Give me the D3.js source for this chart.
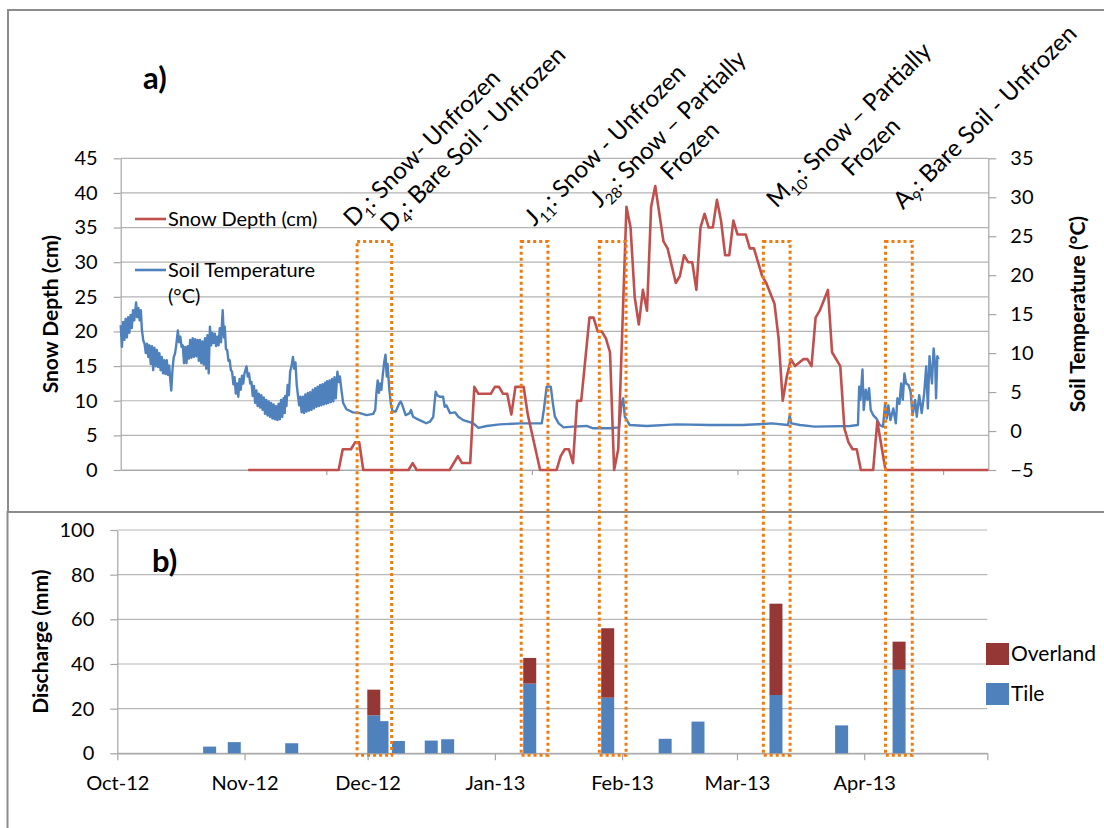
<!DOCTYPE html>
<html>
<head>
<meta charset="utf-8">
<script src="https://cdn.jsdelivr.net/npm/d3@7"></script>
<style>
  body { margin: 0; background: #fff; }
  text { font-family: Lato, "Open Sans", sans-serif; fill: #000; }
</style>
</head>
<body>
<svg id="chart" width="1104" height="828"></svg>
<script>
// ---- data ----
// snow depth (cm), daily
var snowDepth = [
  ["2012-11-01",0],["2012-11-23",0],["2012-11-24",3],["2012-11-26",3],["2012-11-27",4],["2012-11-28",4],["2012-11-29",0],
  ["2012-12-10",0],["2012-12-11",1],["2012-12-12",0],["2012-12-20",0],["2012-12-22",2],["2012-12-23",1],["2012-12-25",1],
  ["2012-12-26",12],["2012-12-27",11],["2012-12-30",11],["2012-12-31",12],["2013-01-01",12],["2013-01-02",11],["2013-01-03",11],
  ["2013-01-04",8],["2013-01-05",12],["2013-01-07",12],["2013-01-08",8],["2013-01-11",0],["2013-01-15",0],["2013-01-16",2],
  ["2013-01-17",3],["2013-01-18",3],["2013-01-19",1],["2013-01-20",10],["2013-01-21",10],["2013-01-23",22],["2013-01-24",22],
  ["2013-01-25",20],["2013-01-26",20],["2013-01-27",19],["2013-01-28",17],["2013-01-29",0],["2013-01-30",3],["2013-02-01",38],
  ["2013-02-02",35],["2013-02-03",25],["2013-02-04",21],["2013-02-05",26],["2013-02-06",23],["2013-02-07",38],["2013-02-08",41],
  ["2013-02-10",33],["2013-02-11",32],["2013-02-13",27],["2013-02-14",28],["2013-02-15",31],["2013-02-16",30],["2013-02-17",30],
  ["2013-02-18",26],["2013-02-19",35],["2013-02-20",37],["2013-02-21",35],["2013-02-22",35],["2013-02-23",39],["2013-02-24",36],
  ["2013-02-25",31],["2013-02-26",31],["2013-02-27",36],["2013-02-28",34],["2013-03-02",34],["2013-03-03",32],["2013-03-04",32],
  ["2013-03-05",30],["2013-03-06",28],["2013-03-07",27],["2013-03-09",24],["2013-03-10",19],["2013-03-11",10],["2013-03-12",13.5],
  ["2013-03-13",16],["2013-03-14",15],["2013-03-16",16],["2013-03-17",16],["2013-03-18",15],["2013-03-19",22],["2013-03-20",23],
  ["2013-03-22",26],["2013-03-23",17],["2013-03-25",15],["2013-03-26",6],["2013-03-27",4],["2013-03-28",3],["2013-03-29",3],
  ["2013-03-30",0],["2013-04-02",0],["2013-04-03",7],["2013-04-05",0],["2013-04-30",0]
];

// soil temperature (°C): [days since 1 Oct 2012, value]
var soilTemp = [
  [0,13.6],[0.3,10.8],[0.6,14.0],[0.9,11.7],[1.2,14.4],[1.5,12.0],[1.8,14.6],[2.1,12.6],[2.4,14.9],[2.7,13.2],[3.0,15.5],[3.3,14.2],
  [3.75,16.5],[4.0,14.6],[4.3,15.8],[4.6,14.2],[4.9,15.5],[5.15,13.0],[5.5,11.6],[5.8,11.2],[6.1,10.0],[6.4,11.2],[6.7,9.5],[7.0,11.0],
  [7.3,8.6],[7.6,10.9],[7.9,7.8],[8.2,10.7],[8.5,8.3],[8.8,10.4],[9.1,8.2],[9.4,10.0],[9.7,7.8],[10.0,9.5],[10.3,7.4],[10.6,9.1],
  [10.9,7.3],[11.2,9.1],[11.5,7.2],[11.8,8.4],[12.1,6.3],[12.3,5.2],[12.6,7.9],[12.9,9.5],[13.2,9.9],[13.5,11.0],[13.9,12.9],[14.2,11.4],
  [14.5,12.1],[14.8,10.8],[15.1,11.0],[15.4,8.7],[15.7,10.8],[16.0,8.7],[16.3,10.9],[16.6,9.3],[16.9,11.7],[17.2,9.4],[17.5,11.9],
  [17.8,9.5],[18.1,11.8],[18.4,9.6],[18.7,11.7],[19.0,9.0],[19.3,11.7],[19.6,8.7],[19.9,11.5],[20.2,8.5],[20.5,11.9],[20.8,8.0],
  [21.1,12.3],[21.4,7.4],[21.7,13.4],[22.0,11.0],[22.3,12.6],[22.6,11.3],[22.9,12.5],[23.2,10.9],[23.5,12.1],[23.8,11.0],[24.1,13.2],
  [24.4,11.4],[24.8,15.5],[25.1,12.0],[25.3,13.4],[25.6,10.5],[25.9,10.4],[26.2,9.0],[26.5,9.1],[26.8,7.8],[27.1,7.6],[27.4,6.0],
  [27.7,6.9],[28.0,4.8],[28.3,6.1],[28.6,4.4],[28.9,6.7],[29.2,5.3],[29.5,7.1],[29.8,6.1],[30.1,7.4],[30.6,8.3],[30.9,7.0],[31.2,7.4],
  [31.5,6.1],[31.8,6.3],[32.1,4.5],[32.4,5.8],[32.7,3.6],[33.0,5.2],[33.3,3.2],[33.6,4.8],[33.9,3.0],[34.2,4.6],[34.5,2.7],[34.8,4.3],
  [35.1,2.2],[35.4,4.0],[35.7,2.0],[36.0,3.8],[36.3,1.8],[36.6,3.6],[36.9,1.6],[37.2,3.4],[37.5,1.5],[37.8,3.2],[38.1,1.4],[38.4,3.5],
  [38.7,1.5],[39.0,4.0],[39.3,1.8],[39.6,4.2],[39.9,2.3],[40.0,4.5],[40.3,3.2],[40.6,5.9],[40.9,4.6],[41.2,7.6],[41.5,8.2],[41.9,9.5],
  [42.2,8.0],[42.5,8.8],[42.8,6.0],[43.1,4.6],[43.4,3.3],[43.7,4.4],[44.0,2.4],[44.3,4.4],[44.6,2.3],[44.9,4.7],[45.2,2.5],[45.5,4.9],
  [45.8,2.6],[46.1,5.0],[46.4,2.7],[46.7,5.3],[47.0,2.9],[47.3,5.5],[47.6,3.1],[47.9,5.7],[48.2,3.2],[48.5,5.9],[48.8,3.3],[49.1,6.0],
  [49.4,3.4],[49.7,6.2],[50.0,3.5],[50.2,6.4],[50.5,3.6],[50.8,6.5],[51.1,3.7],[51.4,6.7],[51.7,3.8],[52.0,6.9],[52.3,4.2],[52.7,7.6],
  [53.0,6.3],[53.3,7.0],[53.7,5.2],[54.1,3.6],[54.9,2.8],[56.5,2.4],[58.2,2.3],[59.8,2.05],[61.4,2.2],[61.9,2.7],[62.2,5.0],[62.5,6.5],
  [62.8,4.9],[63.1,6.1],[63.4,5.3],[63.7,7.0],[64.1,8.9],[64.4,9.8],[64.7,7.0],[64.9,8.6],[65.3,5.5],[65.7,3.5],[66.1,2.5],[66.9,2.5],
  [67.7,3.5],[68.1,3.8],[68.5,3.3],[69.3,2.05],[70.3,2.3],[70.6,2.7],[71.1,1.84],[71.9,1.6],[72.7,1.4],[73.5,1.2],[74.3,1.0],[75.2,1.2],
  [76.0,1.8],[76.6,5.05],[77.0,4.6],[77.6,4.4],[78.4,4.4],[78.8,3.1],[79.2,3.3],[80.1,2.3],[81.3,2.4],[82.1,1.84],[83.3,1.4],[84.5,1.2],
  [85.7,1.0],[87.0,0.4],[89.0,0.65],[92.2,0.86],[97.1,0.98],[102.4,0.98],[102.9,2.7],[103.6,5.7],[104.6,5.7],[105.1,3.55],[105.6,1.84],
  [106.5,0.98],[107.7,0.47],[110.0,0.56],[113.3,0.65],[114.9,0.35],[119.0,0.35],[121.2,0.47],[121.8,3.55],[122.2,4.2],[122.6,1.84],
  [123.8,0.77],[127.9,0.65],[135.1,0.86],[143.3,0.77],[151.3,0.77],[156.2,0.9],[158.3,0.98],[162.3,0.77],[162.7,2.0],[163.1,0.98],
  [165.2,0.77],[168.8,0.56],[177.4,0.65],[179.3,0.77],[179.6,5.7],[179.9,4.0],[180.4,7.9],[180.7,2.7],[181.2,5.3],[181.6,4.0],
  [182.0,5.5],[182.4,2.7],[183.0,2.05],[183.8,1.6],[184.6,0.77],[185.4,0.56],[185.9,3.55],[186.3,1.6],[186.7,3.3],[187.2,1.4],
  [187.9,2.9],[188.5,0.98],[188.9,4.2],[189.4,3.5],[189.8,6.1],[190.2,4.0],[190.6,7.4],[191.0,6.1],[191.6,5.9],[192.1,5.05],
  [192.6,2.05],[193.2,4.0],[193.6,1.84],[194.2,4.6],[194.8,2.3],[195.4,4.8],[195.9,8.3],[196.3,2.9],[196.7,9.6],[197.3,6.1],
  [197.7,10.6],[198.1,8.3],[198.3,4.2],[198.6,9.6],[198.9,9.2]
];

// discharge (mm)
var eventDates = ["2012-10-23","2012-10-29","2012-11-12","2012-12-02","2012-12-04","2012-12-08","2012-12-16","2012-12-20",
  "2013-01-09","2013-01-28","2013-02-11","2013-02-19","2013-03-10","2013-03-26","2013-04-09"];
var tileQ     = [3, 5, 4.5, 17, 14.4, 5.5, 5.7, 6.3, 31.2, 24.9, 6.5, 14.2, 26.1, 12.5, 37.4];
var overlandQ = [0, 0, 0, 11.5, 0, 0, 0, 0, 11.5, 31.1, 0, 0, 40.9, 0, 12.6];

// highlighted runoff periods (days since 1 Oct 2012)
var periodStart = [57.5, 97.4, 116.4, 156.3, 186.0];
var periodEnd   = [65.9, 103.9, 122.9, 162.8, 192.5];
var periodLabels = [
  [["D","1",": Snow- Unfrozen"]],
  [["D","4",": Bare Soil - Unfrozen"]],
  [["J","11",": Snow - Unfrozen"]],
  [["J","28",": Snow \u2013 Partially"], ["","","Frozen"]],
  [["M","10",": Snow \u2013 Partially"], ["","","Frozen"]],
  [["A","9",": Bare Soil - Unfrozen"]]
];

var snowTicks = d3.range(0, 50, 5);
var tempTicks = d3.range(-5, 40, 5);
var qTicks = d3.range(0, 120, 20);

// ---- setup ----
var svg = d3.select("svg#chart");
var parseDay = d3.timeParse("%Y-%m-%d");
var seasonStart = new Date(2012, 9, 1);
function dayToDate(d) { return new Date(seasonStart.getTime() + d * 864e5); }

var red = "#C0504D", blue = "#4F81BD", darkRed = "#953735", orange = "#F07A10";

var xTop = d3.scaleTime().domain([seasonStart, new Date(2013, 3, 30)]).range([120.7, 988.3]);
var ySnow = d3.scaleLinear().domain([0, 45]).range([470, 158.3]);
var yTemp = d3.scaleLinear().domain([-5, 35]).range([470, 158.3]);
var xBot = d3.scaleTime().domain([seasonStart, new Date(2013, 4, 1)]).range([117.3, 987.3]);
var yQ = d3.scaleLinear().domain([0, 100]).range([753.3, 530]);

// panel frames
svg.append("rect").attr("x", 8).attr("y", 10).attr("width", 1200).attr("height", 502)
  .attr("fill", "none").attr("stroke", "#8c8c8c").attr("stroke-width", 2);
svg.append("rect").attr("x", 7.5).attr("y", 512).attr("width", 1200).attr("height", 400)
  .attr("fill", "none").attr("stroke", "#8c8c8c").attr("stroke-width", 2);

// ---- panel a ----
var panelA = svg.append("g");

panelA.append("g").selectAll("line").data(snowTicks).enter().append("line")
  .attr("x1", xTop.range()[0]).attr("x2", xTop.range()[1])
  .attr("y1", function(d) { return ySnow(d); }).attr("y2", function(d) { return ySnow(d); })
  .attr("stroke", "#b3b3b3").attr("stroke-width", 1.2);

function styleAxis(g) {
  g.select(".domain").attr("stroke", "#a6a6a6").attr("stroke-width", 1.2);
  g.selectAll(".tick line").attr("stroke", "#a6a6a6").attr("stroke-width", 1.2);
  g.selectAll("text").style("font-size", "20px").attr("fill", "#000");
}

panelA.append("g").attr("transform", "translate(" + xTop.range()[0] + ",0)")
  .call(d3.axisLeft(ySnow).tickValues(snowTicks).tickSize(7).tickSizeOuter(0).tickPadding(16))
  .call(styleAxis);

panelA.append("g").attr("transform", "translate(" + xTop.range()[1] + ",0)")
  .call(d3.axisRight(yTemp).tickValues(tempTicks).tickSize(8).tickSizeOuter(0).tickPadding(14))
  .call(styleAxis);

panelA.append("g").attr("transform", "translate(0," + ySnow(0) + ")")
  .call(d3.axisBottom(xTop).tickValues([50, 100, 150, 200].map(dayToDate)).tickSize(5).tickSizeOuter(0).tickFormat(""))
  .call(styleAxis);

panelA.append("path").datum(soilTemp)
  .attr("fill", "none").attr("stroke", blue).attr("stroke-width", 2.4).attr("stroke-linejoin", "round")
  .attr("d", d3.line().x(function(d) { return xTop(dayToDate(d[0])); }).y(function(d) { return yTemp(d[1]); }));

panelA.append("path").datum(snowDepth)
  .attr("fill", "none").attr("stroke", red).attr("stroke-width", 2.6).attr("stroke-linejoin", "round")
  .attr("d", d3.line().x(function(d) { return xTop(parseDay(d[0])); }).y(function(d) { return ySnow(d[1]); }));

panelA.append("text").attr("transform", "translate(51," + ySnow(22.5) + ") rotate(-90)")
  .attr("text-anchor", "middle").attr("dy", "0.35em")
  .style("font-size", "21px").style("font-weight", "bold").text("Snow Depth (cm)");
panelA.append("text").attr("transform", "translate(1078," + ySnow(22.5) + ") rotate(-90)")
  .attr("text-anchor", "middle").attr("dy", "0.35em")
  .style("font-size", "21px").style("font-weight", "bold").text("Soil Temperature (\u00B0C)");

panelA.append("text").attr("x", 143).attr("y", 89)
  .style("font-size", "31px").style("font-weight", "bold").text("a)");

// legend a
var legA = [["Snow Depth (cm)", red, 219], ["Soil Temperature", blue, 270]];
legA.forEach(function(l) {
  panelA.append("line").attr("x1", 135).attr("x2", 166).attr("y1", l[2]).attr("y2", l[2])
    .attr("stroke", l[1]).attr("stroke-width", 2.6);
  panelA.append("text").attr("x", 168).attr("y", l[2]).attr("dy", "0.35em")
    .style("font-size", "20px").text(l[0]);
});
panelA.append("text").attr("x", 168).attr("y", 296).attr("dy", "0.35em")
  .style("font-size", "20px").text("(\u00B0C)");

// ---- panel b ----
var panelB = svg.append("g");

panelB.append("g").selectAll("line").data(qTicks).enter().append("line")
  .attr("x1", xBot.range()[0]).attr("x2", xBot.range()[1])
  .attr("y1", function(d) { return yQ(d); }).attr("y2", function(d) { return yQ(d); })
  .attr("stroke", "#b8b8b8").attr("stroke-width", 1.2);

panelB.append("g").attr("transform", "translate(" + xBot.range()[0] + ",0)")
  .call(d3.axisLeft(yQ).tickValues(qTicks).tickSize(7).tickSizeOuter(0).tickPadding(16))
  .call(styleAxis);

var monthTicks = d3.timeMonth.range(seasonStart, new Date(2013, 4, 2));
var fmtMonth = d3.timeFormat("%b-%y");
panelB.append("g").attr("transform", "translate(0," + yQ(0) + ")")
  .call(d3.axisBottom(xBot).tickValues(monthTicks).tickSize(7).tickSizeOuter(0).tickPadding(16)
    .tickFormat(function(d, i) { return i < monthTicks.length - 1 ? fmtMonth(d) : ""; }))
  .call(styleAxis);

var bars = eventDates.map(function(d, i) {
  return { date: d3.timeHour.offset(parseDay(d), 12), tile: tileQ[i], over: overlandQ[i] };
});
var barW = 13;
var barG = panelB.append("g").selectAll("g").data(bars.slice().reverse()).enter().append("g");
barG.append("rect")
  .attr("x", function(d) { return xBot(d.date) - barW / 2; }).attr("width", barW)
  .attr("y", function(d) { return yQ(d.tile); })
  .attr("height", function(d) { return yQ(0) - yQ(d.tile); })
  .attr("fill", blue);
barG.filter(function(d) { return d.over > 0; }).append("rect")
  .attr("x", function(d) { return xBot(d.date) - barW / 2; }).attr("width", barW)
  .attr("y", function(d) { return yQ(d.tile + d.over); })
  .attr("height", function(d) { return yQ(d.tile) - yQ(d.tile + d.over); })
  .attr("fill", darkRed);

panelB.append("text").attr("transform", "translate(41," + yQ(50) + ") rotate(-90)")
  .attr("text-anchor", "middle").attr("dy", "0.35em")
  .style("font-size", "21px").style("font-weight", "bold").text("Discharge (mm)");

panelB.append("text").attr("x", 152).attr("y", 572)
  .style("font-size", "31px").style("font-weight", "bold").text("b)");

var legB = [["Overland", darkRed, 643], ["Tile", blue, 683]];
legB.forEach(function(l) {
  panelB.append("rect").attr("x", 986).attr("y", l[2]).attr("width", 23).attr("height", 22).attr("fill", l[1]);
  panelB.append("text").attr("x", 1011).attr("y", l[2] + 11).attr("dy", "0.35em")
    .style("font-size", "21px").text(l[0]);
});

// ---- highlighted periods ----
svg.append("g").selectAll("rect").data(periodStart).enter().append("rect")
  .attr("x", function(d) { return xTop(dayToDate(d)); })
  .attr("width", function(d, i) { return xTop(dayToDate(periodEnd[i])) - xTop(dayToDate(d)); })
  .attr("y", ySnow(33))
  .attr("height", yQ(0) + 2 - ySnow(33))
  .attr("fill", "none").attr("stroke", orange).attr("stroke-width", 3).attr("stroke-dasharray", "3,3");

// ---- rotated event labels ----
var labelPos = [[422, 148], [473, 139], [605, 145], [668, 129], [849, 125], [985, 117]];
periodLabels.forEach(function(lines, i) {
  var g = svg.append("g").attr("transform", "translate(" + labelPos[i][0] + "," + labelPos[i][1] + ") rotate(-45)");
  lines.forEach(function(parts, j) {
    var t = g.append("text").attr("text-anchor", "middle").attr("y", 8 + j * 31).style("font-size", "24px");
    t.append("tspan").text(parts[0]);
    if (parts[1]) {
      t.append("tspan").style("font-size", "15px").attr("dy", 6).text(parts[1]);
      t.append("tspan").attr("dy", -6).text(parts[2]);
    } else {
      t.append("tspan").text(parts[2]);
    }
  });
});
</script>
</body>
</html>
